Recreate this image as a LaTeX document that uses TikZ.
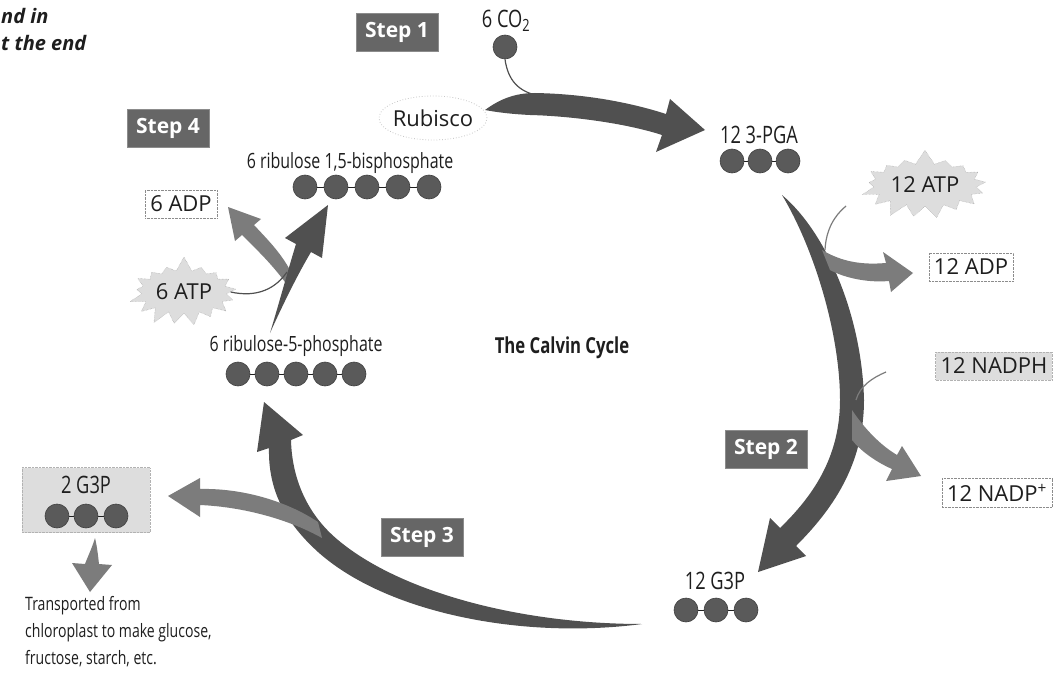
\documentclass[tikz,border=0pt]{standalone}
\usepackage{fontspec}
\setmainfont{Open Sans}
\newfontfamily\condfont{Open Sans}[FakeStretch=0.76]
\usetikzlibrary{shapes.symbols}

\begin{document}
\begin{tikzpicture}[x=1pt,y=-1pt,every node/.style={align=center,inner sep=0pt},
    stepbox/.style={fill=stepgrey,draw=black!45,minimum width=82pt,minimum height=38pt,text=white,font=\fontsize{21}{23}\selectfont\bfseries},
    molecule/.style={text=ink,font=\condfont\fontsize{21}{27}\selectfont},
    shortmolecule/.style={text=ink,font=\condfont\fontsize{24}{27}\selectfont},
    reagent/.style={text=ink,font=\fontsize{22}{26}\selectfont},
    dotbox/.style={reagent,draw=black!45,densely dotted,inner xsep=5pt,inner ysep=6pt},
    washbox/.style={reagent,fill=wash,draw=black!30,densely dotted,inner xsep=5pt,inner ysep=6pt},
    burst/.style={starburst,fill=wash,draw=black!40,densely dotted,starburst points=17,starburst point height=15pt,random starburst=7,inner xsep=2pt,inner ysep=7pt},
    bead/.style={circle,fill=beadgrey,draw=black!75,line width=.6pt,minimum size=24pt}]
  \definecolor{ink}{HTML}{1E1E1E}
  \definecolor{loopgrey}{HTML}{505050}
  \definecolor{branchgrey}{HTML}{7C7C7C}
  \definecolor{beadgrey}{HTML}{5A5A5A}
  \definecolor{wash}{HTML}{DDDDDD}
  \definecolor{stepgrey}{HTML}{666666}
  \useasboundingbox (0,0) rectangle (1061,677);
  \fill[white] (0,0) rectangle (1061,677);
  % Cut-off caption from the page, top left.
  \node[anchor=west,text=ink,font=\fontsize{20}{22}\selectfont\bfseries\itshape] (note1) at (1,16) {nd in};
  \node[anchor=west,text=ink,font=\fontsize{20}{22}\selectfont\bfseries\itshape] (note2) at (1,43) {t the end};
  % Step badges.
  \node[stepbox] (step1) at (397,32) {Step 1};
  \node[stepbox] (step4) at (168,128) {Step 4};
  \node[stepbox] (step2) at (766,449) {Step 2};
  \node[stepbox] (step3) at (422,537) {Step 3};
  \node[text=ink,font=\condfont\fontsize{22}{24}\selectfont\bfseries] (title) at (562,348) {The Calvin Cycle};
  % Step 1: carbon fixation into 3-PGA.
  \node[shortmolecule] (co2) at (506,21) {6 CO\textsubscript{2}};
  \node[bead] (co2bead) at (505,47) {};
  \node[reagent] (rubisco) at (433,118) {Rubisco};
  \draw[black!22,dotted,line width=.8pt] (rubisco) ellipse (54pt and 22pt);
  \draw[loopgrey,line width=1.2pt] (co2bead.south) .. controls (508,80) and (518,92) .. (540,96);
  \fill[loopgrey] (485,110) .. controls (500,99) and (515,93) .. (535,93)
    .. controls (590,94) and (635,104) .. (666,114) -- (670,99) -- (705,130) -- (656,152) -- (662,135)
    .. controls (625,123) and (570,116) .. (530,115) .. controls (510,114) and (495,112) .. (485,110) -- cycle;
  \node[shortmolecule] (pga) at (759,135) {12 3-PGA};
  \draw[ink,line width=1pt] (732,161) -- (788,161);
  \foreach \x [count=\i] in {732,760,788} \node[bead] (pga\i) at (\x,161) {};
  % Step 2: reduction, ATP and NADPH come in.
  \node[burst,reagent] (atp12) at (925,185) {12 ATP};
  \node[dotbox] (adp12) at (971,267) {12 ADP};
  \node[washbox] (nadph) at (994,366) {12 NADPH};
  \node[dotbox] (nadp) at (997,493) {12 NADP\textsuperscript{+}};
  \fill[loopgrey] (782,195) .. controls (826,232) and (862,315) .. (864,400)
    .. controls (864,465) and (832,510) .. (796,546) -- (806,556) -- (758,572) -- (770,518) -- (780,528)
    .. controls (812,497) and (840,458) .. (840,400) .. controls (840,335) and (815,250) .. (782,195) -- cycle;
  \draw[branchgrey,line width=1.2pt] (846,206) .. controls (834,216) and (826,230) .. (825,250);
  \fill[branchgrey] (822,250) .. controls (842,262) and (862,265) .. (886,263) -- (883,252) -- (913,273)
    -- (891,292) -- (889,281) .. controls (865,283) and (843,277) .. (830,270) -- cycle;
  \draw[branchgrey,line width=1.2pt] (886,372) .. controls (872,378) and (860,386) .. (856,400);
  \fill[branchgrey] (852,410) .. controls (864,428) and (880,445) .. (897,455) -- (902,446) -- (921,476)
    -- (886,481) -- (892,469) .. controls (874,461) and (860,450) .. (852,440) -- cycle;
  \node[shortmolecule] (g3p12) at (715,581) {12 G3P};
  \draw[ink,line width=1pt] (686,610) -- (746,610);
  \foreach \x [count=\i] in {686,716,746} \node[bead] (gthree\i) at (\x,610) {};
  % Step 3: two G3P leave, the rest is recycled.
  \fill[loopgrey] (642,624) .. controls (520,640) and (385,612) .. (318,552)
    .. controls (285,522) and (268,490) .. (269,448) -- (257,452) -- (264,402) -- (303,435) -- (291,440)
    .. controls (292,480) and (308,515) .. (338,540) .. controls (400,592) and (520,624) .. (642,624) -- cycle;
  \fill[branchgrey] (200,489) .. controls (240,488) and (285,500) .. (318,522) -- (322,538)
    .. controls (290,520) and (245,507) .. (200,505) -- (200,517) -- (168,496) -- (200,478) -- cycle;
  \node[washbox,minimum width=128pt,minimum height=65pt] (outbox) at (86,500) {};
  \node[shortmolecule] (g3p2) at (86,485) {2 G3P};
  \draw[ink,line width=1pt] (57,516) -- (116,516);
  \foreach \x [count=\i] in {57,86,116} \node[bead] (gtwo\i) at (\x,516) {};
  \fill[branchgrey] (95,538) .. controls (92,548) and (88,556) .. (85,564) -- (72,563) -- (90,592)
    -- (112,565) -- (99,564) .. controls (98,555) and (97,546) .. (95,538) -- cycle;
  \node[molecule,font=\condfont\fontsize{18.5}{27}\selectfont,anchor=north west,align=left] (transport) at (25,596) {Transported from\\chloroplast to make glucose,\\fructose, starch, etc.};
  % Step 4: regeneration of RuBP.
  \node[molecule] (ru5p) at (296,346) {6 ribulose-5-phosphate};
  \draw[ink,line width=1pt] (238,374) -- (354,374);
  \foreach \x [count=\i] in {238,267,296,325,354} \node[bead] (rufive\i) at (\x,374) {};
  \node[burst,reagent] (atp6) at (184,292) {6 ATP};
  \node[dotbox] (adp6) at (181,204) {6 ADP};
  \fill[branchgrey] (254,225) .. controls (268,240) and (280,252) .. (290,270) -- (285,282)
    .. controls (270,262) and (255,248) .. (242,235) -- (235,241) -- (228,207) -- (261,219) -- cycle;
  \draw[loopgrey,line width=1.2pt] (atp6.east) .. controls (258,298) and (276,288) .. (287,272);
  \fill[loopgrey] (270,333) .. controls (285,300) and (298,274) .. (311,252) -- (322,258) -- (328,205)
    -- (285,238) -- (296,244) .. controls (288,270) and (280,300) .. (270,333) -- cycle;
  \node[molecule] (rubp) at (350,163) {6 ribulose 1,5-bisphosphate};
  \draw[ink,line width=1pt] (305,187) -- (429,187);
  \foreach \x [count=\i] in {305,336,367,398,429} \node[bead] (rubp\i) at (\x,187) {};
\end{tikzpicture}
\end{document}
